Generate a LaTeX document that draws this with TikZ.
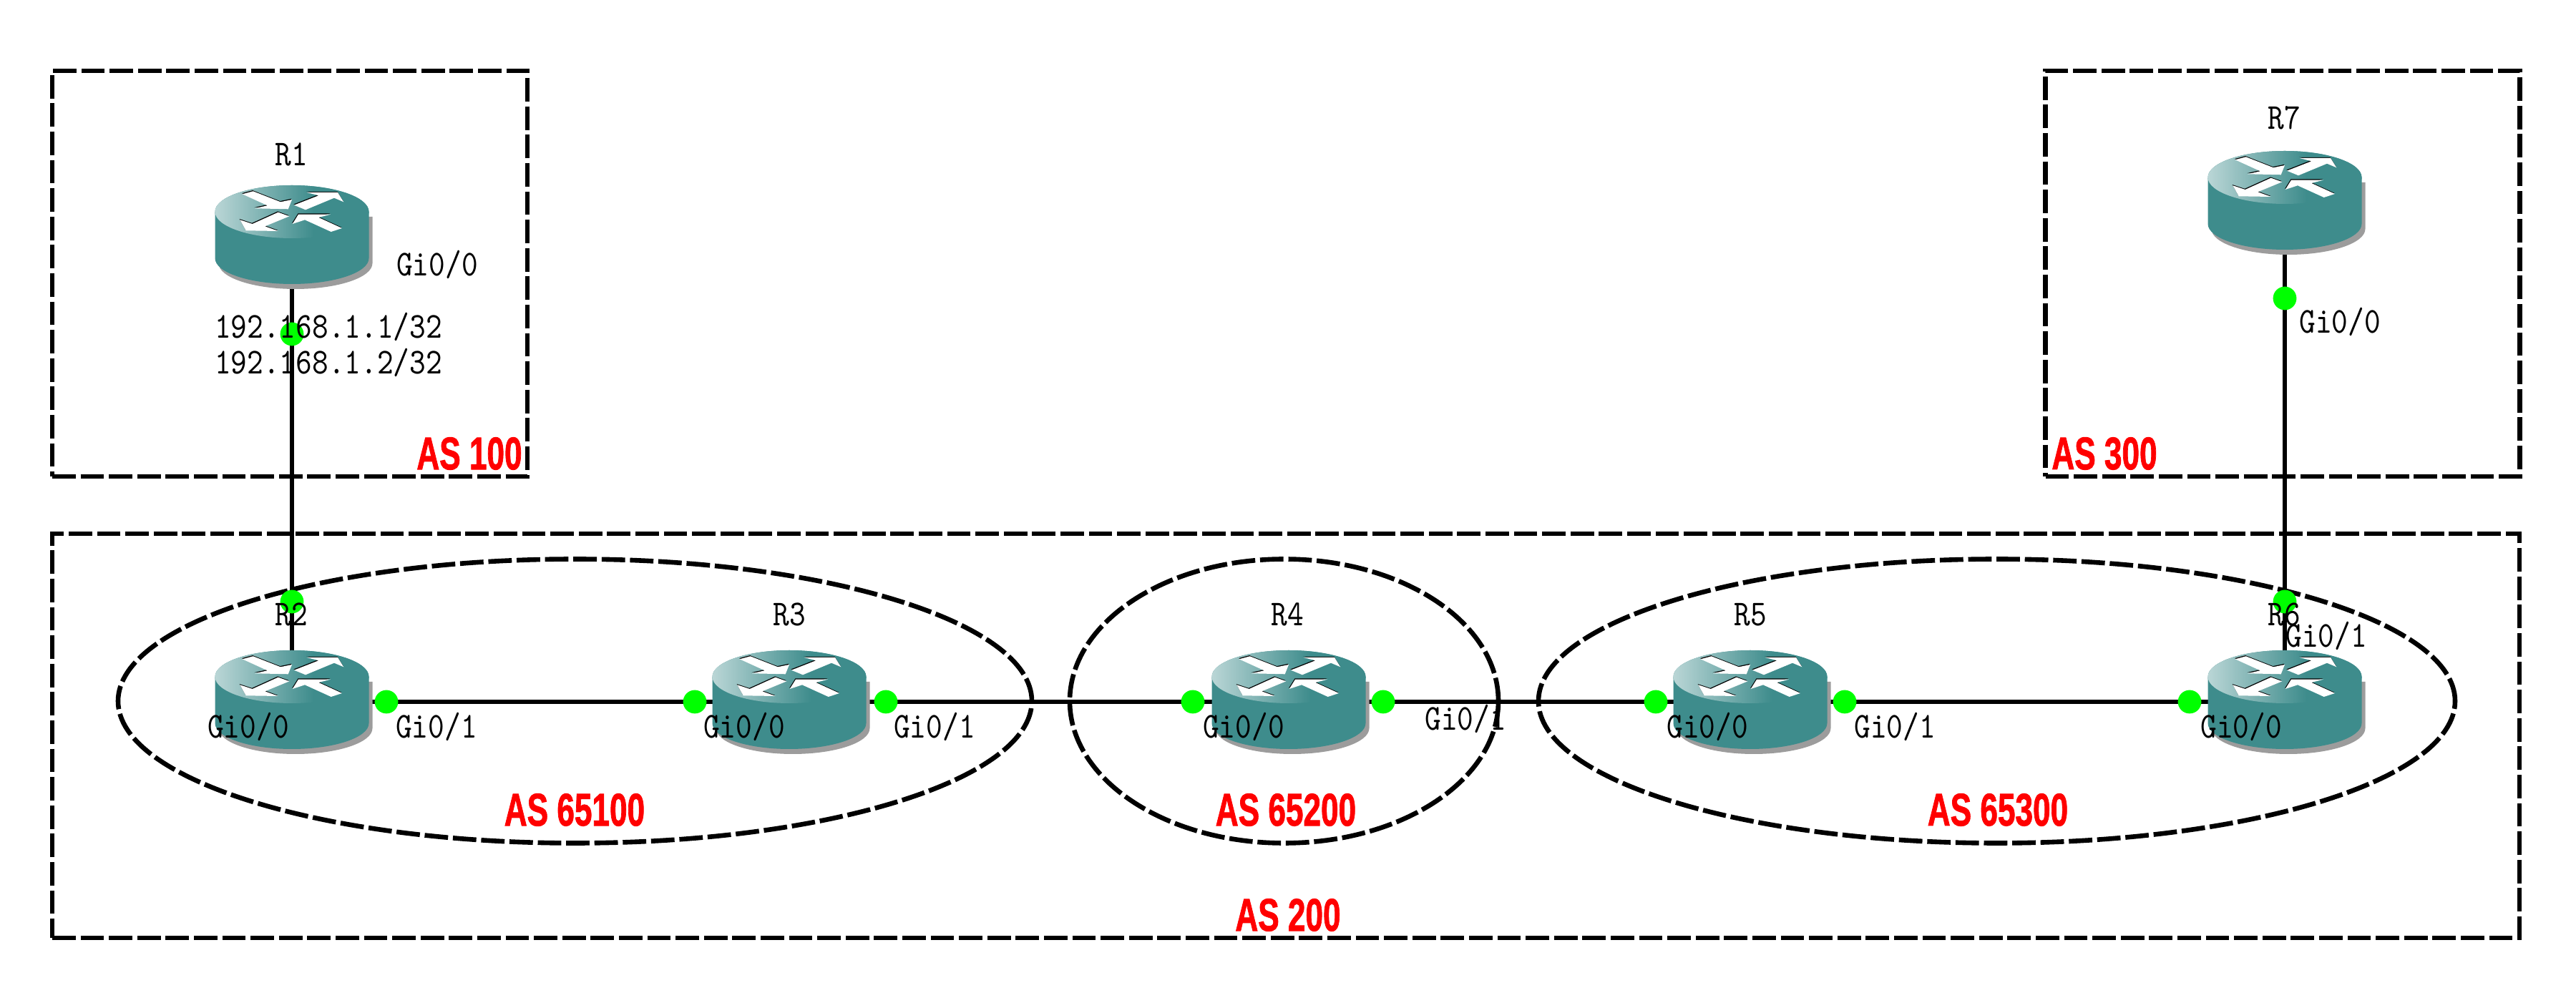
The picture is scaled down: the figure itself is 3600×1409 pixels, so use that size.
\documentclass[tikz,border=0pt]{standalone}
\usepackage{fontspec}
\usepackage{graphicx}
\usetikzlibrary{shapes.geometric}
\newfontfamily\redfont[FakeBold=1.6]{Liberation Sans Bold}
\definecolor{rteal}{HTML}{3E8C8C}
\definecolor{rlight}{HTML}{BAD6D6}
\definecolor{rshadow}{HTML}{9C9C9C}
\definecolor{dotgreen}{HTML}{00FF00}
\definecolor{asred}{HTML}{FF0000}
\pgfdeclarehorizontalshading{routertop}{100bp}{color(0bp)=(rlight); color(25bp)=(rlight); color(57bp)=(rteal); color(100bp)=(rteal)}
\tikzset{
  zone/.style={draw=black,line width=1.65pt,dash pattern=on 8.2pt off 1.7pt,inner sep=0pt,outer sep=0pt},
  routerbox/.style={inner sep=0pt,outer sep=0pt,minimum width=53.75pt,minimum height=34.5pt},
  link/.style={draw=black,line width=1.5pt},
  port/.style={circle,fill=dotgreen,inner sep=0pt,minimum size=8.2pt},
  lbl/.style={inner sep=0pt,font=\fontsize{10.8pt}{13pt}\ttfamily,text=black},
  asl/.style={inner sep=0pt,text=asred,font=\fontsize{16pt}{18pt}\redfont}
}
\newcommand{\tl}[1]{\scalebox{1}[1.18]{#1}}
\newcommand{\rl}[1]{\scalebox{0.69}[1]{#1}}
\newcommand{\routerbody}[1]{%
  \fill[#1] (-107.5,-35) -- (-107.5,30) .. controls (-107.5,49.9) and (-59.4,66) .. (0,66) .. controls (59.4,66) and (107.5,49.9) .. (107.5,30) -- (107.5,-35) -- cycle;}
\newcommand{\routerarrows}[1]{%
  \fill[#1] (-69.3,-59.7) -- (-54.3,-63.7) -- (-16,-48.7) -- (0,-52) -- (-5.3,-38.7) -- (-52,-39.7) -- (-34.3,-43.7) -- cycle;
  \fill[#1] (3,-44.3) -- (37.3,-57.7) -- (20.7,-62) -- (64,-62) -- (72.3,-48.7) -- (59,-54.3) -- (19,-37.7) -- cycle;
  \fill[#1] (-3.7,-28.7) -- (-19.3,-34.3) -- (-55.3,-18) -- (-72.7,-23.7) -- (-64.3,-8.7) -- (-19.3,-8) -- (-37.7,-14.7) -- cycle;
  \fill[#1] (0.7,-18) -- (9,-31.3) -- (54,-31.3) -- (37.3,-27) -- (70,-12) -- (54.7,-7) -- (18,-23.7) -- cycle;}
\newcommand{\routericon}[1]{%
  \begin{scope}[shift={(#1)}]
    \begin{scope}[shift={(5,7)}]\routerbody{rshadow}\end{scope}
    \routerbody{rteal}
    \fill[rteal] (0,-35) ellipse [x radius=107.5,y radius=37];
    \shade[shading=routertop] (0,-35) ellipse [x radius=107.5,y radius=37];
    \begin{scope}[shift={(-0.6,-1.2)}]\routerarrows{black}\end{scope}
    \routerarrows{white}
  \end{scope}}
\begin{document}
\begin{tikzpicture}[x=0.25pt,y=-0.25pt]
\useasboundingbox (0,0) rectangle (3600,1409);
% routers (named anchors)
\node[routerbox] (R1) at (408,331) {};
\node[routerbox] (R2) at (408,981) {};
\node[routerbox] (R3) at (1103,981) {};
\node[routerbox] (R4) at (1801,981) {};
\node[routerbox] (R5) at (2446,981) {};
\node[routerbox] (R6) at (3193,981) {};
\node[routerbox] (R7) at (3193,283) {};
% zones
\node[zone,rectangle,minimum width=166pt,minimum height=141.75pt] (as100) at (405,382.5) {};
\node[zone,rectangle,minimum width=165.75pt,minimum height=141.75pt] (as300) at (3190,382.5) {};
\node[zone,rectangle,minimum width=862pt,minimum height=141.25pt] (as200) at (1797,1028.5) {};
\node[zone,ellipse,minimum width=319.25pt,minimum height=99.25pt] (as65100) at (803.5,980) {};
\node[zone,ellipse,minimum width=149.75pt,minimum height=99.25pt] (as65200) at (1794.5,980) {};
\node[zone,ellipse,minimum width=320.25pt,minimum height=99.25pt] (as65300) at (2790.5,980) {};
% links
\draw[link] (R1) -- (R2);
\draw[link] (R2) -- (R3);
\draw[link] (R3) -- (R4);
\draw[link] (R4) -- (R5);
\draw[link] (R5) -- (R6);
\draw[link] (R6) -- (R7);
% router icons
\routericon{R1}\routericon{R2}\routericon{R3}\routericon{R4}\routericon{R5}\routericon{R6}\routericon{R7}
% ports
\node[port] (p1) at (408,467) {};
\node[port] (p2) at (408,841) {};
\node[port] (p3) at (540,981) {};
\node[port] (p4) at (971,981) {};
\node[port] (p5) at (1238,981) {};
\node[port] (p6) at (1667,981) {};
\node[port] (p7) at (1933,981) {};
\node[port] (p8) at (2314,981) {};
\node[port] (p9) at (2578,981) {};
\node[port] (p10) at (3060,981) {};
\node[port] (p11) at (3193,417) {};
\node[port] (p12) at (3193,841) {};
% labels
\node[lbl] (t1) at (407,216) {\tl{R1}};
\node[lbl] (t2) at (407,859) {\tl{R2}};
\node[lbl] (t3) at (1103,859) {\tl{R3}};
\node[lbl] (t4) at (1799,859) {\tl{R4}};
\node[lbl] (t5) at (2446,859) {\tl{R5}};
\node[lbl] (t6) at (3192,859) {\tl{R6}};
\node[lbl] (t7) at (3192,165) {\tl{R7}};
\node[lbl] (g1) at (611,370) {\tl{Gi0/0}};
\node[lbl] (ip1) at (459,457) {\tl{192.168.1.1/32}};
\node[lbl] (ip2) at (459,507) {\tl{192.168.1.2/32}};
\node[lbl] (g2) at (3270,450) {\tl{Gi0/0}};
\node[lbl] (g3) at (347,1016) {\tl{Gi0/0}};
\node[lbl] (g4) at (610,1016) {\tl{Gi0/1}};
\node[lbl] (g5) at (1040,1016) {\tl{Gi0/0}};
\node[lbl] (g6) at (1306,1016) {\tl{Gi0/1}};
\node[lbl] (g7) at (1738,1016) {\tl{Gi0/0}};
\node[lbl] (g8) at (2048,1005) {\tl{Gi0/1}};
\node[lbl] (g9) at (2386,1016) {\tl{Gi0/0}};
\node[lbl] (g10) at (2648,1016) {\tl{Gi0/1}};
\node[lbl] (g11) at (3251,889) {\tl{Gi0/1}};
\node[lbl] (g12) at (3132,1016) {\tl{Gi0/0}};
% AS labels
\node[asl] (a1) at (656,634) {\rl{AS 100}};
\node[asl] (a2) at (2941,634) {\rl{AS 300}};
\node[asl] (a3) at (803,1132) {\rl{AS 65100}};
\node[asl] (a4) at (1797,1132) {\rl{AS 65200}};
\node[asl] (a5) at (2792,1132) {\rl{AS 65300}};
\node[asl] (a6) at (1800,1279) {\rl{AS 200}};
\end{tikzpicture}
\end{document}
